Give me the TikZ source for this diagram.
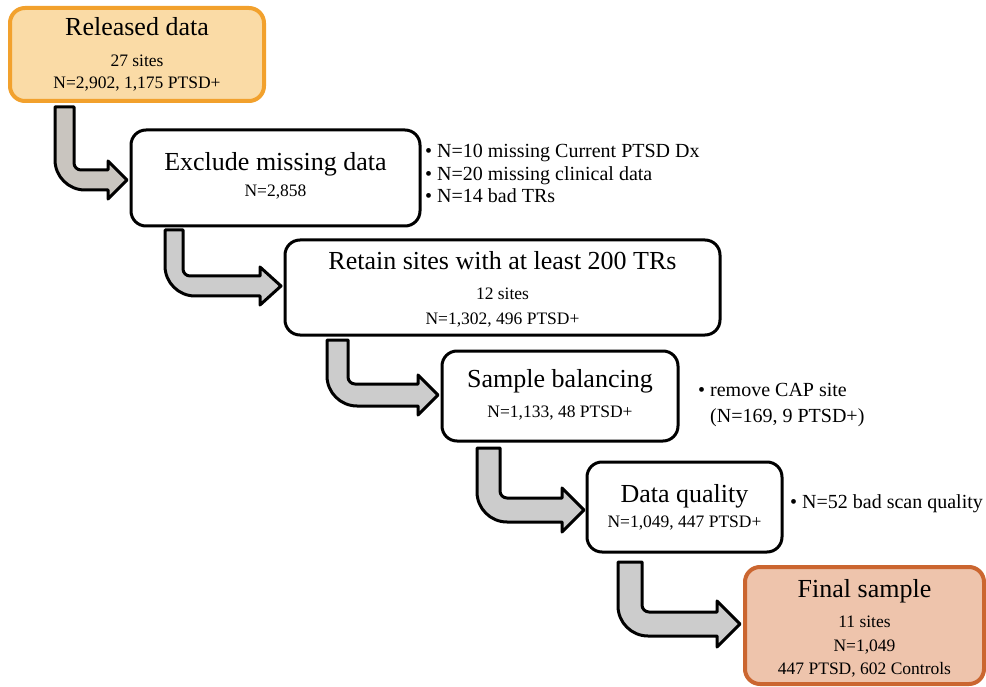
\documentclass[tikz,border=0pt]{standalone}
\usepackage{fontspec}
\setmainfont{Liberation Serif}
\definecolor{relfill}{HTML}{FADBA6}
\definecolor{reldraw}{HTML}{F2A12D}
\definecolor{finfill}{HTML}{EEC4AC}
\definecolor{findraw}{HTML}{CB6630}
\definecolor{arrA}{HTML}{C9C5BF}
\definecolor{arrB}{HTML}{CCCCCC}
\tikzset{
  stepbox/.style={draw=black, line width=3pt, rounded corners=15pt, fill=white, inner sep=0pt},
  relbox/.style={stepbox, draw=reldraw, line width=4pt, fill=relfill},
  finbox/.style={stepbox, draw=findraw, line width=4pt, fill=finfill},
  ttl/.style={font=\fontsize{26}{28}\selectfont, inner sep=0pt, anchor=base},
  sub/.style={font=\fontsize{17.5}{20}\selectfont, inner sep=0pt, anchor=base},
  note/.style={font=\fontsize{20}{22}\selectfont, inner sep=0pt, anchor=base west},
  blk/.style={draw=black, line width=3pt, line join=round},
}
% #1 xl, #2 xr, #3 yt, #4 yc, #5 half band, #6 head base x, #7 tip x, #8 head half height, #9 fill
\newcommand\blockarrow[9]{%
  \pgfmathsetmacro\ri{7}%
  \pgfmathsetmacro\ro{30}%
  \draw[blk, fill=#9] (#1,#3) -- (#2,#3) -- (#2,{#4-#5-\ri})
    .. controls (#2,{#4-#5-0.45*\ri}) and ({#2+0.45*\ri},{#4-#5}) .. ({#2+\ri},{#4-#5})
    -- (#6,{#4-#5}) -- (#6,{#4-#8}) -- (#7,#4) -- (#6,{#4+#8}) -- (#6,{#4+#5})
    -- ({#1+\ro},{#4+#5})
    .. controls ({#1+0.45*\ro},{#4+#5}) and (#1,{#4+#5-0.45*\ro}) .. (#1,{#4+#5-\ro})
    -- cycle;
}
\begin{document}
\begin{tikzpicture}[x=1pt,y=-1pt]
\useasboundingbox (0,0) rectangle (986,687);
% boxes
\node[relbox, minimum width=254pt, minimum height=93pt] (b1) at (137,54.5) {};
\node[stepbox, minimum width=289pt, minimum height=96pt] (b2) at (275.5,178) {};
\node[stepbox, minimum width=435pt, minimum height=95pt] (b3) at (502.5,287.5) {};
\node[stepbox, minimum width=236pt, minimum height=90pt] (b4) at (560,396) {};
\node[stepbox, minimum width=195pt, minimum height=90pt] (b5) at (684.5,507) {};
\node[finbox, minimum width=239pt, minimum height=117pt] (b6) at (864.5,625.5) {};
% box texts
\node[ttl] (t1) at (137,36) {Released data};
\node[sub] (t1a) at (137,67) {27 sites};
\node[sub] (t1b) at (137,89) {N=2,902, 1,175 PTSD+};
\node[ttl] (t2) at (275.5,171) {Exclude missing data};
\node[sub] (t2a) at (275.5,197) {N=2,858};
\node[ttl] (t3) at (502.5,270) {Retain sites with at least 200 TRs};
\node[sub] (t3a) at (502.5,300) {12 sites};
\node[sub] (t3b) at (502.5,324) {N=1,302, 496 PTSD+};
\node[ttl] (t4) at (560,387) {Sample balancing};
\node[sub] (t4a) at (560,417) {N=1,133, 48 PTSD+};
\node[ttl] (t5) at (684.5,502) {Data quality};
\node[sub] (t5a) at (684.5,527) {N=1,049, 447 PTSD+};
\node[ttl] (t6) at (864.5,597) {Final sample};
\node[sub] (t6a) at (864.5,627) {11 sites};
\node[sub] (t6b) at (864.5,651) {N=1,049};
\node[sub] (t6c) at (864.5,674) {447 PTSD, 602 Controls};
% side notes
\node[note] (n1) at (425,158) {• N=10 missing Current PTSD Dx};
\node[note] (n2) at (425,181) {• N=20 missing clinical data};
\node[note] (n3) at (425,203) {• N=14 bad TRs};
\node[note] (n4) at (698,396) {• remove CAP site};
\node[note] (n5) at (710,422) {(N=169, 9 PTSD+)};
\node[note] (n6) at (790,508) {• N=52 bad scan quality};
% arrows
\blockarrow{55}{74}{107}{180}{10}{108}{127}{19}{arrA}
\blockarrow{165}{183}{230}{286}{10}{260}{281}{19}{arrB}
\blockarrow{327}{348}{340}{395}{11}{418}{438}{20}{arrB}
\blockarrow{477}{500}{448}{510}{12}{562}{584}{22}{arrB}
\blockarrow{618}{642}{562}{624}{12}{717}{740}{23}{arrB}
\end{tikzpicture}
\end{document}
